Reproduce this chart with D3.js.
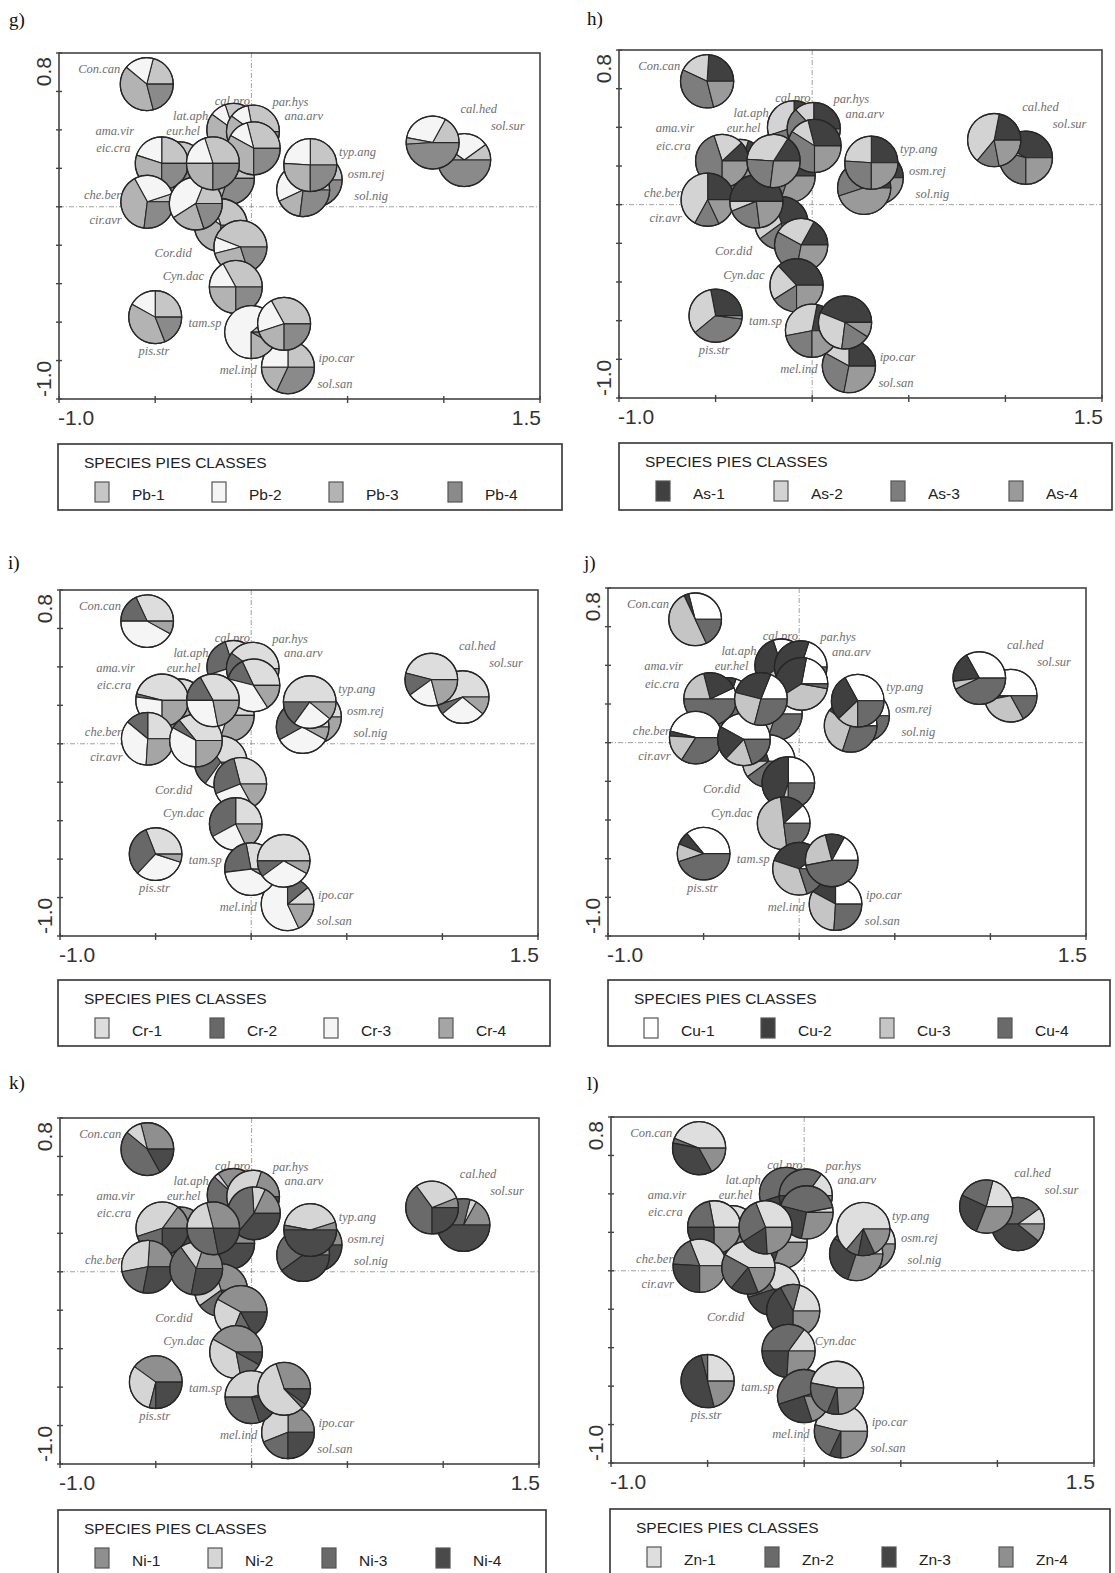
<!DOCTYPE html>
<html><head><meta charset="utf-8">
<script src="https://cdn.jsdelivr.net/npm/d3@7"></script>
<style>body{margin:0;background:#fff} svg{display:block}</style>
</head><body>
<svg id="chart" width="1115" height="1573"></svg>
<script>
// ---------------- DATA ----------------
const species = ["Con.can","cal.pro","par.hys","lat.aph","ana.arv","ama.vir","eur.hel","eic.cra",
  "typ.ang","osm.rej","sol.nig","che.ber","cir.avr","Cor.did","Cyn.dac","pis.str","tam.sp",
  "mel.ind","ipo.car","sol.san","cal.hed","sol.sur"];
// species scores (axis 1, axis 2)
const speciesAxis1 = [-0.544,-0.094,0.008,-0.122,0.012,-0.373,-0.200,-0.466,0.306,0.334,0.269,
  -0.541,-0.289,-0.159,-0.081,-0.500,-0.057,-0.001,0.170,0.190,0.942,1.106];
const speciesAxis2 = [0.638,0.400,0.391,0.148,0.304,0.200,0.226,0.226,0.217,0.139,0.087,
  0.026,0.017,-0.096,-0.417,-0.574,-0.209,-0.652,-0.609,-0.835,0.334,0.243];
// label anchor positions (axis units)
const labelAxis1 = [-0.900,-0.191,0.110,-0.407,0.172,-0.810,-0.442,-0.807,0.455,0.501,0.535,
  -0.870,-0.842,-0.503,-0.461,-0.587,-0.327,-0.165,0.349,0.343,1.087,1.245];
const labelAxis2 = [0.696,0.530,0.525,0.452,0.449,0.374,0.374,0.285,0.266,0.151,0.035,
  0.040,-0.092,-0.261,-0.383,-0.770,-0.623,-0.869,-0.809,-0.942,0.487,0.397];
const labelOverrides = [
  {panel:"k)", name:"cir.avr", a1:-0.505, a2:0.030},
  {panel:"l)", name:"Cyn.dac", a1:0.055, a2:-0.386}
];
// drawing order, back to front
const drawOrder = ["ama.vir","lat.aph","Cor.did","cal.pro","par.hys","ana.arv","eic.cra","che.ber",
  "cir.avr","eur.hel","tam.sp","Cyn.dac","osm.rej","sol.nig","typ.ang","sol.san","mel.ind",
  "ipo.car","sol.sur","cal.hed","Con.can","pis.str"];

const panelTags = ["g)","h)","i)","j)","k)","l)"];
const elements = ["Pb","As","Cr","Cu","Ni","Zn"];
const classNumbers = [1,2,3,4];
const xTicks = [-1.0,-0.5,0.0,0.5,1.0,1.5];
const yTicks = [-1.0,-0.8,-0.6,-0.4,-0.2,0.0,0.2,0.4,0.6,0.8];
const xEndLabels = ["-1.0","1.5"];
const yEndLabels = ["-1.0","0.8"];
const legendTitle = "SPECIES PIES CLASSES";

// class shares (%) per species, classes 1..4
const sharesPb = [[21,18,40,21],[30,10,35,25],[28,12,35,25],[25,15,30,30],[29,13,33,25],[30,15,30,25],
  [30,20,25,25],[25,20,30,25],[25,24,26,25],[25,20,30,25],[33,24,16,27],[5,28,40,27],[19,40,21,20],
  [30,10,35,25],[33,17,25,25],[25,17,39,19],[44,10,26,20],[11,64,17,8],[33,22,20,25],[25,25,18,32],
  [17,30,4,49],[10,30,10,50]];
const sharesAs = [[24,19,36,21],[25,30,20,25],[25,12,30,33],[20,20,30,30],[29,12,34,25],[20,20,35,25],
  [16,33,24,27],[12,18,45,25],[25,24,26,25],[22,20,30,28],[20,15,20,45],[25,42,15,18],[50,6,21,23],
  [30,30,20,20],[37,22,16,25],[28,33,37,2],[17,25,30,28],[22,31,22,25],[44,29,18,9],[25,17,30,28],
  [22,42,14,22],[42,4,29,25]];
const sharesCr = [[32,18,42,8],[30,25,25,20],[40,15,25,20],[30,20,20,30],[32,14,38,16],[30,10,20,40],
  [33,17,28,22],[46,2,27,25],[50,15,24,11],[20,20,30,30],[36,22,34,8],[25,14,35,26],[36,6,33,25],
  [35,30,20,15],[25,33,24,18],[31,32,32,5],[29,27,27,17],[28,24,40,8],[50,10,32,8],[11,14,57,18],
  [46,14,19,21],[55,6,28,11]];
const sharesCu = [[29,3,50,18],[30,30,10,30],[20,35,15,30],[20,20,30,30],[22,37,38,3],[20,20,20,40],
  [19,27,25,29],[7,22,21,50],[33,29,13,25],[30,15,20,35],[10,30,30,30],[46,3,17,34],[42,21,17,20],
  [30,20,10,40],[12,15,50,23],[36,8,11,45],[25,45,5,25],[10,35,35,20],[17,12,24,47],[25,17,32,26],
  [33,19,5,43],[50,3,30,17]];
const sharesNi = [[29,10,44,17],[35,3,32,30],[20,35,30,15],[20,10,35,35],[18,8,38,36],[25,20,30,25],
  [29,21,28,22],[15,40,20,25],[5,42,3,50],[15,15,30,40],[10,10,40,40],[24,29,19,28],[20,15,37,28],
  [30,30,20,20],[42,36,14,8],[40,31,4,25],[42,27,14,17],[5,45,30,20],[30,57,3,10],[25,31,19,25],
  [6,29,40,25],[17,4,29,50]];
const sharesZn = [[44,3,36,17],[15,40,20,25],[15,35,30,20],[20,20,30,30],[3,43,26,28],[30,20,25,25],
  [31,28,17,24],[28,22,25,25],[64,8,10,18],[15,20,20,45],[15,25,30,30],[31,18,26,25],[42,22,17,19],
  [35,20,35,10],[15,35,24,26],[25,4,50,21],[21,12,42,25],[5,50,25,20],[47,22,7,24],[46,22,7,25],
  [21,22,26,31],[10,40,39,11]];
const sharesByPanel = [sharesPb, sharesAs, sharesCr, sharesCu, sharesNi, sharesZn];

// ---------------- STYLE / LAYOUT ----------------
const palettes = [
  ["#c6c6c6","#f5f5f5","#b3b3b3","#8a8a8a"],
  ["#404040","#d3d3d3","#7d7d7d","#9a9a9a"],
  ["#dddddd","#686868","#f5f5f5","#a5a5a5"],
  ["#ffffff","#3f3f3f","#c5c5c5","#6a6a6a"],
  ["#8f8f8f","#d5d5d5","#6a6a6a","#4a4a4a"],
  ["#dedede","#6a6a6a","#454545","#8f8f8f"]
];
const layout = [
  {tag:[9,26],    box:[59,53,540,399],     legend:[58,444,562,510],    sw:[37,154,271,390]},
  {tag:[587,25],  box:[619,50,1102,398],   legend:[619,443,1112,510],  sw:[37,155,272,390]},
  {tag:[8,569],   box:[60,590,538,936],    legend:[58,980,550,1046],   sw:[37,152,266,381]},
  {tag:[584,569], box:[608,588,1086,936],  legend:[608,980,1110,1046], sw:[36,153,272,390]},
  {tag:[9,1089],  box:[60,1118,539,1464],  legend:[58,1510,546,1580],  sw:[37,150,264,378]},
  {tag:[587,1090],box:[611,1117,1094,1463],legend:[610,1509,1110,1580],sw:[37,155,272,389]}
];

const svg = d3.select("#chart");
const pie = d3.pie().sort(null).value(d => d).startAngle(Math.PI/2).endAngle(Math.PI/2 - 2*Math.PI);

layout.forEach((L, p) => {
  const [bx0, by0, bx1, by1] = L.box;
  const x = d3.scaleLinear().domain([-1.0, 1.5]).range([bx0, bx1]);
  const y = d3.scaleLinear().domain([-1.0, 0.8]).range([by1, by0]);
  const g = svg.append("g");
  const r = 26.5 * (bx1 - bx0) / 481;
  const arc = d3.arc().innerRadius(0).outerRadius(r);
  const colors = palettes[p];
  const shares = sharesByPanel[p];

  // zero lines
  g.append("line").attr("x1", x(0)).attr("x2", x(0)).attr("y1", by0).attr("y2", by1)
    .attr("stroke", "#8a8a8a").attr("stroke-width", 0.8).attr("stroke-dasharray", "5,2,1,2");
  g.append("line").attr("x1", bx0).attr("x2", bx1).attr("y1", y(0)).attr("y2", y(0))
    .attr("stroke", "#8a8a8a").attr("stroke-width", 0.8).attr("stroke-dasharray", "5,2,1,2");

  // species labels (under pies)
  species.forEach((name, i) => {
    let a1 = labelAxis1[i], a2 = labelAxis2[i];
    const ov = labelOverrides.find(o => o.panel === panelTags[p] && o.name === name);
    if (ov) { a1 = ov.a1; a2 = ov.a2; }
    g.append("text").attr("x", x(a1)).attr("y", y(a2)).text(name)
      .attr("font-family", "Liberation Serif, Times New Roman, serif").attr("font-style", "italic")
      .attr("font-size", 12.5).attr("fill", "#6e6e6e");
  });

  // pies
  drawOrder.forEach(name => {
    const i = species.indexOf(name);
    const pg = g.append("g").attr("transform", `translate(${x(speciesAxis1[i])},${y(speciesAxis2[i])})`);
    pg.selectAll("path").data(pie(shares[i])).join("path")
      .attr("d", arc).attr("fill", (d, k) => colors[k])
      .attr("stroke", "#262626").attr("stroke-width", 1.1).attr("stroke-linejoin", "round");
    pg.append("circle").attr("r", r).attr("fill", "none").attr("stroke", "#262626").attr("stroke-width", 1.3);
  });

  // frame
  g.append("rect").attr("x", bx0).attr("y", by0).attr("width", bx1 - bx0).attr("height", by1 - by0)
    .attr("fill", "none").attr("stroke", "#444").attr("stroke-width", 1.6);

  // ticks
  g.selectAll(".yt").data(yTicks).join("line")
    .attr("x1", bx0 - 3).attr("x2", bx0 + 3).attr("y1", d => y(d)).attr("y2", d => y(d))
    .attr("stroke", "#444").attr("stroke-width", 1.4);
  g.selectAll(".xt").data(xTicks).join("line")
    .attr("x1", d => x(d)).attr("x2", d => x(d)).attr("y1", by1 - 3).attr("y2", by1 + 4)
    .attr("stroke", "#444").attr("stroke-width", 1.4);

  // axis end labels
  const af = "Liberation Sans, Arial, sans-serif";
  g.append("text").attr("x", bx0 - 1).attr("y", by1 + 26).text(xEndLabels[0])
    .attr("font-family", af).attr("font-size", 21).attr("fill", "#333");
  g.append("text").attr("x", bx1 + 1).attr("y", by1 + 26).attr("text-anchor", "end").text(xEndLabels[1])
    .attr("font-family", af).attr("font-size", 21).attr("fill", "#333");
  g.append("text").attr("transform", `translate(${bx0 - 8},${by1 - 2}) rotate(-90)`).text(yEndLabels[0])
    .attr("font-family", af).attr("font-size", 21).attr("fill", "#333");
  g.append("text").attr("transform", `translate(${bx0 - 8},${by0 + 4}) rotate(-90)`).attr("text-anchor", "end")
    .text(yEndLabels[1]).attr("font-family", af).attr("font-size", 21).attr("fill", "#333");

  // panel tag
  svg.append("text").attr("x", L.tag[0]).attr("y", L.tag[1]).text(panelTags[p])
    .attr("font-family", "Liberation Serif, Times New Roman, serif").attr("font-size", 19).attr("fill", "#111");

  // legend
  const [lx0, ly0, lx1, ly1] = L.legend;
  const lg = svg.append("g");
  lg.append("rect").attr("x", lx0).attr("y", ly0).attr("width", lx1 - lx0).attr("height", ly1 - ly0)
    .attr("fill", "#fff").attr("stroke", "#333").attr("stroke-width", 1.6);
  lg.append("text").attr("x", lx0 + 26).attr("y", ly0 + 24).text(legendTitle)
    .attr("font-family", af).attr("font-size", 15.5).attr("fill", "#222");
  classNumbers.forEach((c, k) => {
    const sx = lx0 + L.sw[k];
    lg.append("rect").attr("x", sx).attr("y", ly0 + 38).attr("width", 14).attr("height", 20)
      .attr("fill", colors[k]).attr("stroke", "#555").attr("stroke-width", 1.2);
    lg.append("text").attr("x", sx + 37).attr("y", ly0 + 56).text(`${elements[p]}-${c}`)
      .attr("font-family", af).attr("font-size", 15.5).attr("fill", "#222");
  });
});
</script>
</body></html>
